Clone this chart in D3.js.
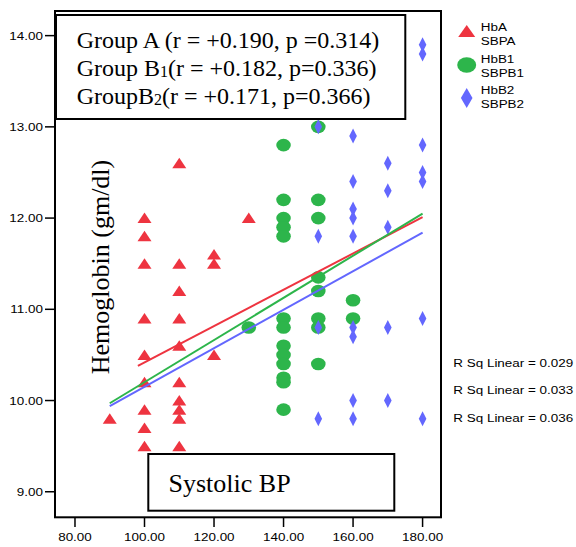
<!DOCTYPE html>
<html>
<head>
<meta charset="utf-8">
<script src="https://d3js.org/d3.v7.min.js"></script>
<style>
  html, body { margin: 0; padding: 0; background: #fff; }
  svg { display: block; }
</style>
</head>
<body>
<div id="chart"></div>
<script>
// Systolic BP (x) and Hemoglobin (y) for each group
const sbpA = [90, 100, 100, 100, 100, 100, 100, 100, 100, 100,
              110, 110, 110, 110, 110, 110, 110, 110, 110, 110,
              120, 120, 120, 130]
const hbA  = [9.8, 12.0, 11.8, 11.5, 10.9, 10.5, 10.2, 9.9, 9.7, 9.5,
              12.6, 11.5, 11.2, 10.9, 10.6, 10.2, 10.0, 9.9, 9.8, 9.5,
              11.6, 11.5, 10.5, 12.0]

const sbpB1 = [130,
               140, 140, 140, 140, 140, 140, 140, 140, 140, 140, 140, 140, 140,
               150, 150, 150, 150, 150, 150, 150, 150,
               160, 160]
const hbB1  = [10.8,
               12.8, 12.2, 12.0, 11.9, 11.8, 10.9, 10.8, 10.6, 10.5, 10.4, 10.25, 10.2, 9.9,
               13.0, 12.2, 12.0, 11.35, 11.2, 10.9, 10.8, 10.4,
               11.1, 10.9]

const sbpB2 = [150, 150, 150, 150,
               160, 160, 160, 160, 160, 160, 160, 160, 160,
               170, 170, 170, 170, 170,
               180, 180, 180, 180, 180, 180, 180]
const hbB2  = [13.0, 11.8, 10.8, 9.8,
               12.9, 12.4, 12.1, 12.0, 11.8, 10.8, 10.7, 10.0, 9.8,
               12.6, 12.3, 11.9, 10.8, 10.0,
               13.9, 13.8, 12.8, 12.5, 12.4, 10.9, 9.8]

// fit line end points [sbp, hb]
const fitA  = [[98.1, 10.38], [180, 12.01]]
const fitB1 = [[90, 9.97], [180, 12.05]]
const fitB2 = [[90, 9.94], [180, 11.84]]

const xTicks = [80, 100, 120, 140, 160, 180]
const yTicks = [9, 10, 11, 12, 13, 14]

const legendTop = ['HbA', 'HbB1', 'HbB2']
const legendBottom = ['SBPA', 'SBPB1', 'SBPB2']
const rsq = ['0.029', '0.033', '0.036']
const statLines = [
  ['Group A (r = +0.190, p =0.314)'],
  ['Group B', '1', '(r = +0.182, p=0.336)'],
  ['GroupB', '2', '(r = +0.171, p=0.366)']
]

const W = 576, H = 547
const RED = '#ee3440', GREEN = '#2db54b', BLUE = '#6367fe'
const SANS = '"Liberation Sans", Arial, sans-serif'
const SERIF = '"Liberation Serif", "Times New Roman", serif'
const SX = 1.17  // SPSS text looks stretched sideways

const svg = d3.select('#chart').append('svg')
  .attr('width', W).attr('height', H)

const x = d3.scaleLinear().domain([74.25, 185.3]).range([55, 441])
const y = d3.scaleLinear().domain([8.72, 14.27]).range([517.3, 11])

// sans text, stretched like the original
function sText(px, py, str, anchor) {
  svg.append('g')
    .attr('transform', `translate(${px},${py}) scale(${SX},1)`)
    .append('text')
    .attr('text-anchor', anchor || 'start')
    .attr('font-family', SANS)
    .attr('font-size', 11.5)
    .attr('fill', '#000')
    .text(str)
}

// frame
svg.append('rect')
  .attr('x', x.range()[0]).attr('y', y.range()[1])
  .attr('width', x.range()[1] - x.range()[0])
  .attr('height', y.range()[0] - y.range()[1])
  .attr('fill', 'none').attr('stroke', '#000').attr('stroke-width', 2)

// axes ticks
xTicks.forEach(t => {
  svg.append('line').attr('x1', x(t)).attr('x2', x(t))
    .attr('y1', 517.3).attr('y2', 527).attr('stroke', '#000').attr('stroke-width', 1.5)
  sText(x(t), 541, d3.format('.2f')(t), 'middle')
})
yTicks.forEach(t => {
  svg.append('line').attr('x1', 45).attr('x2', 55)
    .attr('y1', y(t)).attr('y2', y(t)).attr('stroke', '#000').attr('stroke-width', 1.5)
  sText(43, y(t) + 4, d3.format('.2f')(t), 'end')
})

// points
const tri = 'M0,-5.5L7,5L-7,5Z'
const dia = 'M0,-7.5L3.8,0L0,7.5L-3.8,0Z'

svg.append('g').selectAll('path')
  .data(d3.zip(sbpA, hbA)).enter().append('path')
  .attr('d', tri)
  .attr('transform', d => `translate(${x(d[0])},${y(d[1])})`)
  .attr('fill', RED)

svg.append('g').selectAll('ellipse')
  .data(d3.zip(sbpB1, hbB1)).enter().append('ellipse')
  .attr('cx', d => x(d[0])).attr('cy', d => y(d[1]))
  .attr('rx', 7.3).attr('ry', 6.3)
  .attr('fill', GREEN)

svg.append('g').selectAll('path')
  .data(d3.zip(sbpB2, hbB2)).enter().append('path')
  .attr('d', dia)
  .attr('transform', d => `translate(${x(d[0])},${y(d[1])})`)
  .attr('fill', BLUE)

// fit lines
const line = d3.line().x(d => x(d[0])).y(d => y(d[1]))
;[[fitA, RED], [fitB1, GREEN], [fitB2, BLUE]].forEach(([f, c]) => {
  svg.append('path').attr('d', line(f))
    .attr('fill', 'none').attr('stroke', c).attr('stroke-width', 2)
})

// R Sq labels
rsq.forEach((r, i) => sText(453.3, 366.7 + i * 27.5, 'R Sq Linear = ' + r))

// legend
svg.append('path').attr('d', 'M0,-6L8.5,6L-8.5,6Z')
  .attr('transform', 'translate(466.7,31)').attr('fill', RED)
svg.append('ellipse').attr('cx', 466.7).attr('cy', 65)
  .attr('rx', 9.5).attr('ry', 7.7).attr('fill', GREEN)
svg.append('path').attr('d', 'M0,-10L5.8,0L0,10L-5.8,0Z')
  .attr('transform', 'translate(466.7,98)').attr('fill', BLUE)
const legY = [30.7, 63.3, 94.3]
legendTop.forEach((t, i) => {
  sText(480.7, legY[i], t)
  sText(480.7, legY[i] + 13.8, legendBottom[i])
})

// stats box
svg.append('rect')
  .attr('x', 56).attr('y', 15).attr('width', 349.3).attr('height', 104)
  .attr('fill', '#fff').attr('stroke', '#000').attr('stroke-width', 2)
statLines.forEach((parts, i) => {
  const t = svg.append('text')
    .attr('x', 76.7).attr('y', 47.7 + i * 28.2)
    .attr('font-family', SERIF).attr('font-size', 24).attr('fill', '#000')
  parts.forEach((p, j) => {
    const sp = t.append('tspan').text(p)
    if (j === 1) sp.attr('font-size', 16).attr('dy', 1)
    if (j === 2) sp.attr('dy', -1)
  })
})

// x title box
svg.append('rect')
  .attr('x', 148.3).attr('y', 454).attr('width', 246).attr('height', 56.7)
  .attr('fill', '#fff').attr('stroke', '#000').attr('stroke-width', 2)
svg.append('text')
  .attr('x', 168.5).attr('y', 492)
  .attr('font-family', SERIF).attr('font-size', 26).attr('fill', '#000')
  .text('Systolic BP')

// y title
svg.append('text')
  .attr('transform', 'translate(109,267) rotate(-90)')
  .attr('text-anchor', 'middle')
  .attr('font-family', SERIF).attr('font-size', 26).attr('fill', '#000')
  .text('Hemoglobin (gm/dl)')
</script>
</body>
</html>
